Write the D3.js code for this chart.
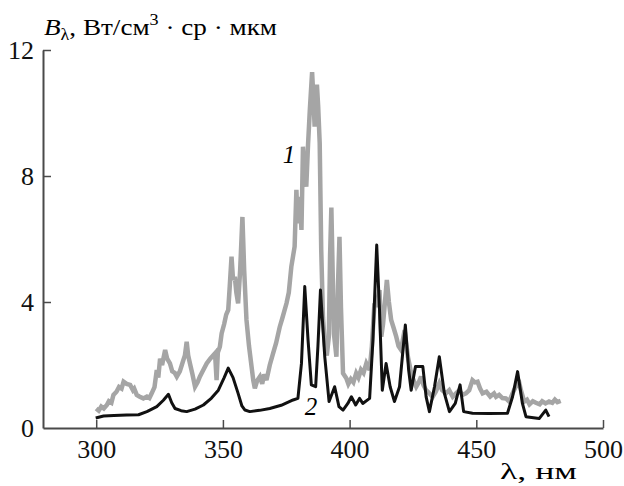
<!DOCTYPE html>
<html lang="ru">
<head>
  <meta charset="UTF-8">
  <title>Spectra</title>
  <style>
    body { margin: 0; background: #fff; }
    .lib { font-family: "Liberation Serif", "Times New Roman", serif; }
  </style>
</head>
<body>
<script src="https://d3js.org/d3.v7.min.js"></script>
<div id="chart"></div>
<script>
// DATA ==========================================================================
// curve 1 (gray)
const wl1 = [300,301,302,303,304.2,305,306,306.8,308,309,310,310.8,312,313.4,314.5,315,316,317,318.6,320,321,321.9,323,323.9,324.5,325.2,326,327.2,328,329.1,330,331,331.8,333,334.4,335,335.7,336.3,337,338,339,340,340.9,342,343.6,345,346.9,347.5,348,348.8,349.5,350.5,351.3,352.1,352.7,353.4,354,354.7,355.3,356,356.8,357.7,358.4,359.3,360.3,361.3,362,362.6,363.5,364.6,365.5,366.3,367.2,368.5,369.8,371,372.4,373.5,375.1,376,377,378.3,379,379.5,380.3,381,381.6,382.2,382.9,383.6,384.3,385.2,385.7,386.2,387.1,387.6,388.2,388.8,389.5,390.3,391,391.8,392.3,392.8,393.3,393.8,394.8,395.4,396,396.6,397.4,398.7,399.5,400.5,401.5,402.6,403.5,404.5,405.5,406.6,407.9,408.8,409.8,410.5,411.8,412.5,413.2,414.7,415.5,416.4,417.3,418.4,419.3,420.3,421.7,423,424.3,425.3,426.3,427.3,428.2,429.2,430.2,431.5,432.8,434,435.4,436.5,438,439.3,440.7,442,443.3,444.5,445.9,447.2,448.5,449.5,450.5,451.5,452.5,454,455.5,457,457.8,459,460.3,461.7,463,464.3,465.5,466.7,467.6,468.9,470,471,472.3,473.5,475,476,477.3,478.7,480,481,482,483.3];
const val1 = [0.62,0.55,0.68,0.62,0.73,0.85,0.8,1.05,1.15,1.3,1.25,1.47,1.4,1.37,1.2,1.25,1.05,1.0,0.94,1.0,0.95,1.1,1.3,1.84,1.6,2.2,2.0,2.48,2.2,2.05,1.8,1.75,1.63,1.8,2.16,2.3,2.74,2.3,2.05,1.7,1.31,1.45,1.63,1.8,2.05,2.2,2.37,1.52,2.4,2.58,3.0,3.3,3.6,3.75,4.5,5.44,4.7,4.8,4.3,3.96,5.0,6.7,5.0,3.43,2.6,1.95,1.5,1.26,1.5,1.63,1.4,1.7,1.52,2.0,2.37,2.7,3.2,3.5,3.96,4.3,5.12,5.76,7.56,6.5,7.34,6.29,8.93,8.0,7.66,9.0,10.1,11.3,10.5,9.57,10.9,10.2,9.04,5.65,3.5,2.6,2.3,2.9,5.5,7.0,5.0,3.0,2.26,4.5,6.07,3.8,1.74,1.58,1.4,1.55,1.45,1.74,1.6,1.85,1.75,2.05,1.84,2.6,3.96,3.85,4.38,2.9,3.3,4.7,4.0,3.43,3.2,2.9,2.6,2.48,3.11,2.26,1.74,1.5,1.31,1.45,1.63,1.35,1.2,1.1,0.99,1.15,1.42,1.2,1.1,1.2,0.99,1.1,1.2,1.05,1.1,1.2,1.52,1.45,1.47,1.25,1.1,1.15,1.0,1.1,0.99,1.05,0.95,0.94,0.84,1.1,1.3,1.52,1.2,0.84,0.9,0.75,0.85,0.8,0.75,0.85,0.78,0.84,0.8,0.9,0.82,0.86];

// curve 2 (black)
const wl2 = [299.8,302.9,307,312,316.7,320,323.9,326.5,328.5,329.8,331.1,333.5,335.7,339,342.3,345.5,348.2,350.5,352.1,354,356,357.5,358.7,360.6,364.5,368.5,373,377.7,379.6,381,382.3,383.6,384.9,386.6,387.5,388.5,390.2,391.9,394.1,395.8,397.4,399.3,400.7,402.4,403.9,405.2,407.9,409.2,410.7,411.8,412.9,414.4,416,417.7,419.7,422,423.3,424.3,426,428.9,430.2,431.5,433.5,435.4,437.4,439.4,441.7,443.6,445,448.5,455,462.3,464.3,466.3,468.2,469.6,474.8,477.4,478.7];
const val2 = [0.32,0.38,0.4,0.41,0.42,0.52,0.68,0.88,1.07,0.8,0.62,0.55,0.52,0.6,0.73,0.95,1.2,1.6,1.9,1.6,1.1,0.7,0.57,0.52,0.56,0.62,0.72,0.89,0.94,2.05,4.49,2.79,1.37,1.31,2.6,4.38,2.26,0.84,1.31,0.68,0.57,0.78,0.99,0.73,0.94,0.78,0.94,2.79,5.81,3.75,1.2,2.05,1.31,0.84,1.31,3.27,1.84,1.2,1.95,1.95,0.99,0.52,1.31,2.26,1.1,0.52,0.78,1.37,0.52,0.47,0.46,0.47,0.99,1.79,0.78,0.36,0.3,0.57,0.36];

const xTicks = [300, 350, 400, 450, 500];
const yTicks = [0, 4, 8, 12];

// PLOT AREA =====================================================================
const W = 624, H = 486;
const svg = d3.select("#chart").append("svg")
  .attr("width", W).attr("height", H);

const x = d3.scaleLinear().domain([279, 500]).range([43, 603]);
const y = d3.scaleLinear().domain([0, 12]).range([428, 50]);

// AXES ==========================================================================
const axisColor = "#4a4a4a";
const gx = svg.append("g")
  .attr("transform", `translate(0,${y(0)})`)
  .call(d3.axisBottom(x).tickValues(xTicks).tickSize(-8).tickSizeOuter(0).tickPadding(12));
const gy = svg.append("g")
  .attr("transform", `translate(${x(279)},0)`)
  .call(d3.axisLeft(y).tickValues(yTicks).tickSize(-8).tickSizeOuter(0).tickPadding(9));

[gx, gy].forEach(g => {
  g.attr("font-family", null).attr("font-size", null);
  g.select(".domain").attr("stroke", axisColor).attr("stroke-width", 2);
  g.selectAll(".tick line").attr("stroke", axisColor).attr("stroke-width", 1.5);
  g.selectAll(".tick text")
    .attr("class", "lib")
    .attr("font-size", 26)
    .attr("fill", "#111");
});
gy.selectAll(".tick").filter(d => d === 0).select("line").remove();

// CURVES ========================================================================
const line = d3.line().x(d => x(d[0])).y(d => y(d[1]));
const s1 = wl1.map((w, i) => [w, val1[i]]);
const s2 = wl2.map((w, i) => [w, val2[i]]);

svg.append("path").datum(s1)
  .attr("d", line).attr("fill", "none")
  .attr("stroke", "#a5a5a5").attr("stroke-width", 4.5)
  .attr("stroke-linejoin", "miter").attr("stroke-miterlimit", 3);

svg.append("path").datum(s2)
  .attr("d", line).attr("fill", "none")
  .attr("stroke", "#111").attr("stroke-width", 3)
  .attr("stroke-linejoin", "round");

// LABELS ========================================================================
svg.append("text").attr("class", "lib").attr("x", 289).attr("y", 163)
  .attr("text-anchor", "middle").attr("font-size", 25).attr("font-style", "italic")
  .text("1");
svg.append("text").attr("class", "lib").attr("x", 311).attr("y", 415)
  .attr("text-anchor", "middle").attr("font-size", 25).attr("font-style", "italic")
  .text("2");

const title = svg.append("text").attr("class", "lib")
  .attr("x", 44).attr("y", 35).attr("font-size", 24)
  .attr("textLength", 233).attr("lengthAdjust", "spacingAndGlyphs");
title.append("tspan").attr("font-style", "italic").text("B");
title.append("tspan").attr("font-size", 16).attr("dy", 5).text("λ");
title.append("tspan").attr("dy", -5).text(", Вт/см");
title.append("tspan").attr("font-size", 16).attr("dy", -10).text("3");
title.append("tspan").attr("dy", 10).text(" · ср · мкм");

svg.append("text").attr("class", "lib").attr("x", 500).attr("y", 479)
  .attr("font-size", 24)
  .attr("textLength", 77).attr("lengthAdjust", "spacingAndGlyphs")
  .text("λ, нм");
</script>
</body>
</html>
